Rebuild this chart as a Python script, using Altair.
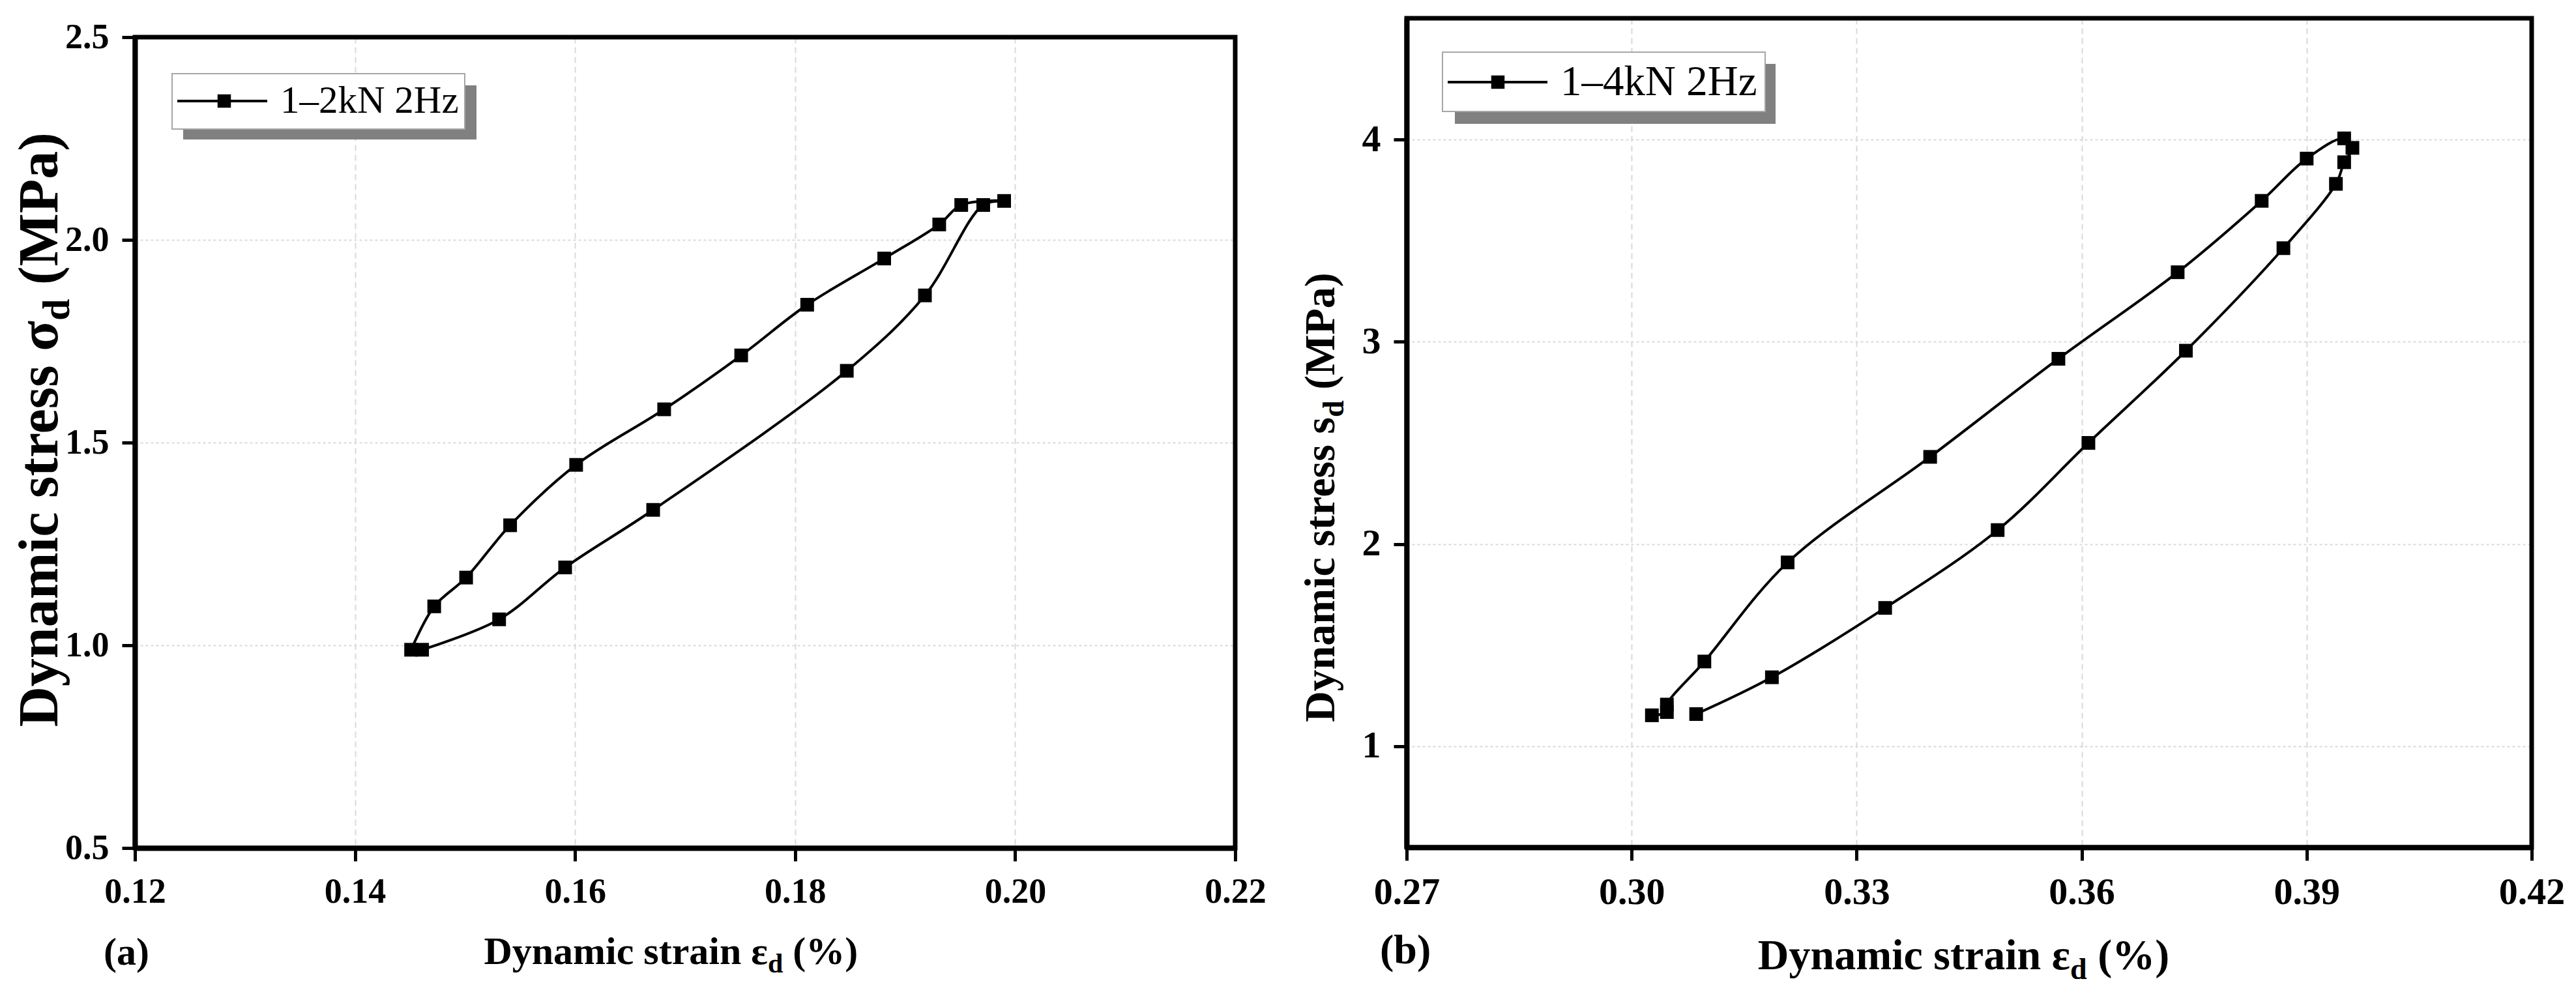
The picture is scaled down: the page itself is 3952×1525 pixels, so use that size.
import altair as alt
import pandas as pd

# DATA -----------------------------------------------------------------------------------------------------
# (a) 1-2kN 2Hz, points in the order they are joined along the loop
strain_a = [0.1451, 0.1472, 0.1501, 0.1541, 0.1601, 0.1681, 0.1751, 0.1811, 0.1881, 0.1931,
            0.1951, 0.1990, 0.1971, 0.1918, 0.1847, 0.1671, 0.1591, 0.1531, 0.1461]
stress_a = [0.989, 1.096, 1.167, 1.296, 1.445, 1.582, 1.715, 1.840, 1.954, 2.038,
            2.086, 2.096, 2.086, 1.863, 1.677, 1.334, 1.192, 1.064, 0.989]

# (b) 1-4kN 2Hz
strain_b = [0.3027, 0.3047, 0.3047, 0.3097, 0.3208, 0.3398, 0.3569, 0.3728, 0.3840, 0.3900, 0.3950,
            0.3961, 0.3950, 0.3939, 0.3869, 0.3739, 0.3609, 0.3488, 0.3338, 0.3187, 0.3086]
stress_b = [1.153, 1.169, 1.206, 1.419, 1.909, 2.431, 2.916, 3.344, 3.697, 3.906, 4.006,
            3.959, 3.888, 3.781, 3.463, 2.956, 2.500, 2.069, 1.684, 1.341, 1.159]

xticks_a = [0.12, 0.14, 0.16, 0.18, 0.20, 0.22]
yticks_a = [0.5, 1.0, 1.5, 2.0, 2.5]
xticks_b = [0.27, 0.30, 0.33, 0.36, 0.39, 0.42]
yticks_b = [1, 2, 3, 4]

label_a = "1–2kN 2Hz"
label_b = "1–4kN 2Hz"

SERIF = "Liberation Serif"


def one(text):
    return alt.Chart(pd.DataFrame({"t": [text]}))


def text_part(text, x, y, size, **kw):
    return one(text).mark_text(font=SERIF, fontWeight="bold", fontSize=size, color="black", **kw).encode(
        text="t:N", x=alt.value(x), y=alt.value(y))


def x_title(pre, post, x, y, size):
    sub = size * 0.7
    return [
        text_part(pre, x, y, size, align="right", baseline="alphabetic"),
        text_part("d", x, y, sub, align="left", baseline="alphabetic", dy=size * 0.22),
        text_part(post, x, y, size, align="left", baseline="alphabetic", dx=0.556 * sub + 0.25 * size),
    ]


def y_title(pre, post, x, y, size):
    sub = size * 0.7
    return [
        text_part(pre, x, y, size, align="right", baseline="middle", angle=270),
        text_part("d", x, y, sub, align="left", baseline="middle", angle=270, dy=size * 0.3),
        text_part(post, x, y, size, align="left", baseline="middle", angle=270,
                  dx=0.556 * sub + 0.25 * size),
    ]


def legend(label, box, shadow, line, mark_x, text_x, cy, size):
    return [
        one(label).mark_rect(color="#808080").encode(
            x=alt.value(shadow[0]), x2=alt.value(shadow[1]), y=alt.value(shadow[2]), y2=alt.value(shadow[3])),
        one(label).mark_rect(fill="white", stroke="#a6a6a6", strokeWidth=2).encode(
            x=alt.value(box[0]), x2=alt.value(box[1]), y=alt.value(box[2]), y2=alt.value(box[3])),
        one(label).mark_rule(color="black", strokeWidth=4).encode(
            x=alt.value(line[0]), x2=alt.value(line[1]), y=alt.value(cy)),
        one(label).mark_square(color="black", opacity=1, size=420).encode(
            x=alt.value(mark_x), y=alt.value(cy)),
        one(label).mark_text(font=SERIF, fontSize=size, color="black", align="left", baseline="middle").encode(
            text="t:N", x=alt.value(text_x), y=alt.value(cy)),
    ]


def panel(strain, stress, xdom, xticks, xfmt, ydom, yticks, yfmt, w, h, lsize, extra):
    df = pd.DataFrame({"strain": strain, "stress": stress, "k": list(range(len(strain)))})
    base = alt.Chart(df).encode(
        x=alt.X("strain:Q", scale=alt.Scale(domain=xdom, nice=False, zero=False),
                axis=alt.Axis(values=xticks, format=xfmt, title=None, labelFontSize=lsize, gridDash=[9, 6])),
        y=alt.Y("stress:Q", scale=alt.Scale(domain=ydom, nice=False, zero=False),
                axis=alt.Axis(values=yticks, format=yfmt, title=None, labelFontSize=lsize, gridDash=[4, 4])),
        order="k:O",
    )
    curve = base.mark_line(interpolate="catmull-rom", color="black", strokeWidth=4)
    dots = base.mark_square(color="black", opacity=1, size=440)
    # frame drawn over the grid so the top/right border stays solid
    frame = one("frame").mark_rect(fillOpacity=0, stroke="black", strokeWidth=7).encode(
        x=alt.value(0), x2=alt.value(w), y=alt.value(0), y2=alt.value(h))
    return alt.layer(curve, dots, frame, *extra).properties(width=w, height=h)


# LEFT PANEL -----------------------------------------------------------------------------------------------
WA, HA = 1688, 1244
extra_a = (
    legend(label_a, (57, 506, 56, 141), (74, 524, 74, 157), (65, 203), 137, 223, 98, 59)
    + x_title("Dynamic strain ε", "(%)", 971, HA + 178, 60)
    + y_title("Dynamic stress σ", "(MPa)", -145, 435, 86)
    + [text_part("(a)", -48, HA + 179, 60, align="left", baseline="alphabetic")]
)
left = panel(strain_a, stress_a, [0.12, 0.22], xticks_a, ".2f", [0.5, 2.5], yticks_a, ".1f",
             WA, HA, 54, extra_a)

# empty strip above the left panel, its plot area starts lower than the right one
spacer = one("gap").mark_rule(opacity=0).encode(x=alt.value(0), y=alt.value(0)).properties(width=1, height=29)
left_col = alt.vconcat(spacer, left, spacing=0, bounds="flush")

# RIGHT PANEL ----------------------------------------------------------------------------------------------
WB, HB = 1726, 1272
extra_b = (
    legend(label_b, (55, 550, 52, 143), (74, 566, 70, 162), (63, 216), 140, 236, 98, 65)
    + x_title("Dynamic strain ε", "(%)", 1018, HB + 187, 66)
    + y_title("Dynamic stress s", "(MPa)", -131, 612, 66)
    + [text_part("(b)", -41, HB + 178, 64, align="left", baseline="alphabetic")]
)
right = panel(strain_b, stress_b, [0.27, 0.42], xticks_b, ".2f", [0.5, 4.6], yticks_b, "d",
              WB, HB, 58, extra_b)

chart = alt.hconcat(left_col, right, spacing=51).properties(
    padding={"left": 11, "top": 16, "right": 0, "bottom": 0},
    background="white",
).configure_view(
    stroke=None
).configure_axis(
    domainColor="black", domainWidth=8, tickColor="black", tickWidth=5, tickSize=20,
    labelFont=SERIF, labelFontWeight="bold", labelColor="black", labelPadding=20, labelFlush=False,
    gridColor="#d9d9d9", gridWidth=2,
)

chart.save("out.html", embed_options={"renderer": "svg", "actions": False})
